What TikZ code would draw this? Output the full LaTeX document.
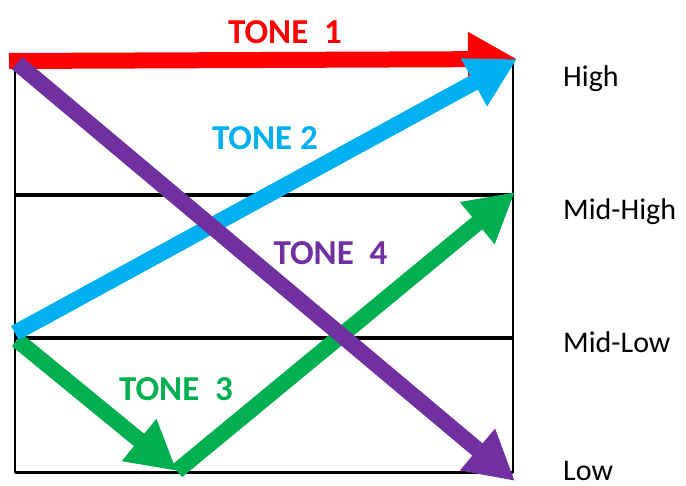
\documentclass[tikz,border=0pt]{standalone}
\usepackage{fontspec}
\setmainfont{Carlito}
\usetikzlibrary{arrows.meta}
\definecolor{tred}{HTML}{FF0000}
\definecolor{tblue}{HTML}{00B0F0}
\definecolor{tgreen}{HTML}{00B050}
\definecolor{tpurple}{HTML}{7030A0}
\tikzset{
  tonearrow/.style={line width=16pt, -{Triangle[length=49pt,width=51pt]}},
  tonelabel/.style={anchor=base, inner sep=0pt, font=\fontsize{35}{40}\selectfont\bfseries},
  levellabel/.style={anchor=base west, inner sep=0pt, font=\fontsize{30}{36}\selectfont},
  gridline/.style={line width=4pt, black},
}
\begin{document}
\begin{tikzpicture}[x=1pt,y=-1pt]
\useasboundingbox (0,0) rectangle (686,486);
% frame
\coordinate (tl) at (15,62);
\coordinate (br) at (513,472);
\coordinate (mhL) at (15,195.5);
\coordinate (mhR) at (513,195.5);
\coordinate (mlL) at (15,338);
\coordinate (mlR) at (513,338);
\coordinate (loL) at (15,472);
\coordinate (loR) at (513,472);
\draw[line width=2pt] (tl) rectangle (br);
\draw[gridline] (mhL) -- (mhR);
\draw[gridline] (mlL) -- (mlR);
\draw[line width=3pt] (loL) -- (loR);
% arrow end points
\coordinate (r0) at (9,61);
\coordinate (r1) at (517,59);
\coordinate (g0) at (17,340);
\coordinate (g1) at (177,471);
\coordinate (g2) at (515,192);
\coordinate (b0) at (15,333);
\coordinate (b1) at (517,59);
\coordinate (p0) at (17,63);
\coordinate (p1) at (515,481);
% arrows
\draw[tonearrow, tred] (r0) -- (r1);
\draw[tonearrow, tgreen] (g0) -- (g1);
\draw[tonearrow, tgreen] (g1) -- (g2);
\draw[tonearrow, tblue] (b0) -- (b1);
\draw[tonearrow, tpurple] (p0) -- (p1);
% tone labels
\node[tonelabel, text=tred] (t1) at (285,44) {TONE~~1};
\node[tonelabel, text=tblue] (t2) at (265,150) {TONE 2};
\node[tonelabel, text=tgreen] (t3) at (176,401) {TONE~~3};
\node[tonelabel, text=tpurple] (t4) at (330.5,265) {TONE~~4};
% level labels
\node[levellabel] (high) at (563,87) {High};
\node[levellabel] (mhigh) at (563,220) {Mid-High};
\node[levellabel] (mlow) at (563,353) {Mid-Low};
\node[levellabel] (low) at (563,481) {Low};
\end{tikzpicture}
\end{document}
